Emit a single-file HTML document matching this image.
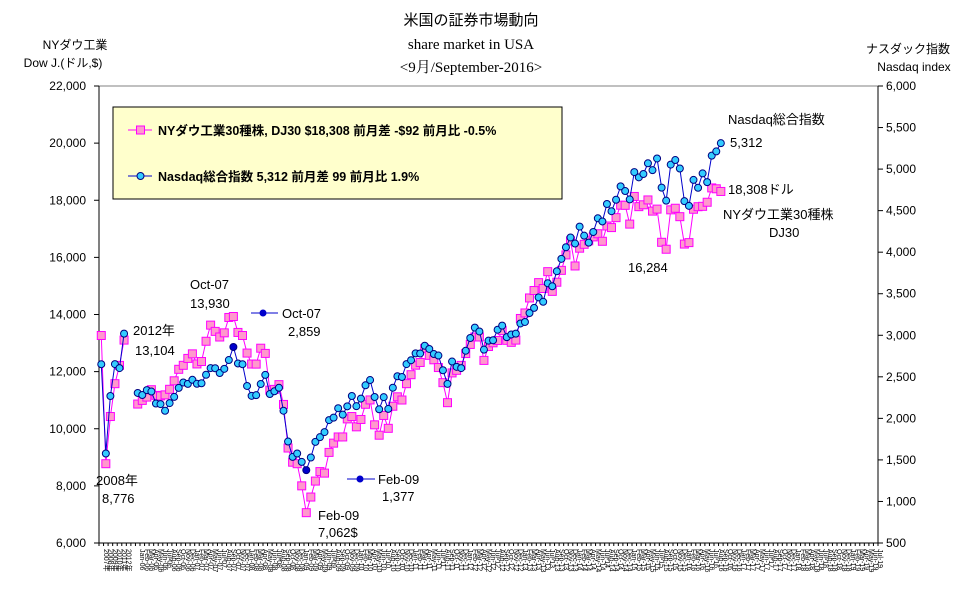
<!DOCTYPE html>
<html><head><meta charset="utf-8">
<style>
body{margin:0;background:#fff;}
svg text{font-family:"Liberation Sans","Noto Sans CJK JP",sans-serif;}
.serif{font-family:"Liberation Serif","Noto Serif CJK SC",serif !important;}
</style></head>
<body>
<svg id="chart" width="970" height="603" viewBox="0 0 970 603" xmlns="http://www.w3.org/2000/svg">
<g id="plot"></g>
<g>
<text x="471" y="25" font-size="15" text-anchor="middle">米国の証券市場動向</text>
<text class="serif" x="471" y="49" font-size="15" text-anchor="middle">share market in USA</text>
<text class="serif" x="471" y="72" font-size="15" text-anchor="middle">&lt;9月/September-2016&gt;</text>
<text x="75" y="49" font-size="12" text-anchor="middle">NYダウ工業</text>
<text x="63" y="67" font-size="12" text-anchor="middle">Dow J.(ドル,$)</text>
<text x="908" y="53" font-size="12" text-anchor="middle">ナスダック指数</text>
<text x="914" y="71" font-size="12" text-anchor="middle">Nasdaq index</text>
</g>
<g>
<rect x="113" y="107" width="449" height="92" fill="#ffffcc" stroke="#000" stroke-width="1"/>
<line x1="128" y1="130" x2="152" y2="130" stroke="#ff00ff"/>
<rect x="136.5" y="126" width="8" height="8" fill="#ff99cc" stroke="#ff00ff"/>
<text x="158" y="135" font-size="12.5" font-weight="bold">NYダウ工業30種株, DJ30 $18,308 前月差 -$92 前月比 -0.5%</text>
<line x1="128" y1="176" x2="152" y2="176" stroke="#0000cc"/>
<circle cx="140.5" cy="176" r="3.5" fill="#33ccff" stroke="#000080"/>
<text x="158" y="181" font-size="12.5" font-weight="bold">Nasdaq総合指数 5,312 前月差 99 前月比 1.9%</text>
</g>
<g font-size="13">
<text x="133" y="335">2012年</text>
<text x="135" y="355">13,104</text>
<text x="190" y="289">Oct-07</text>
<text x="190" y="308">13,930</text>
<line x1="251" y1="313" x2="278" y2="313" stroke="#0000cc"/>
<circle cx="263" cy="313" r="3.5" fill="#0000cc"/>
<text x="282" y="318">Oct-07</text>
<text x="288" y="336">2,859</text>
<text x="96" y="485">2008年</text>
<text x="102" y="503">8,776</text>
<text x="318" y="520">Feb-09</text>
<text x="318" y="537">7,062$</text>
<line x1="347" y1="479" x2="375" y2="479" stroke="#0000cc"/>
<circle cx="360" cy="479" r="3.5" fill="#0000cc"/>
<text x="378" y="484">Feb-09</text>
<text x="382" y="501">1,377</text>
<text x="628" y="272">16,284</text>
<text x="728" y="124">Nasdaq総合指数</text>
<text x="730" y="147">5,312</text>
<text x="728" y="194">18,308ドル</text>
<text x="723" y="219">NYダウ工業30種株</text>
<text x="769" y="237">DJ30</text>
</g>
</svg>
<script>
const annualLabels = ["2007年","2008年","2009年","2010年","2011年","2012年"];
const dowAnnual = [13265,8776,10428,11578,12218,13104];
const nasdaqAnnual = [2652,1577,2269,2653,2605,3020];
const dowMonthly = [
10865,10993,11109,11367,11168,11150,11186,11381,11679,12081,12221,12463,
12622,12269,12354,13063,13628,13409,13212,13358,13896,13930,13372,13265,
12650,12266,12263,12820,12638,11350,11378,11544,10851,9325,8829,8776,
8001,7062,7609,8168,8500,8447,9172,9496,9712,9713,10345,10428,
10067,10325,10857,11009,10137,9774,10466,10015,10788,11118,11006,11578,
11892,12226,12320,12811,12570,12414,12143,11614,10913,11955,12046,12218,
12633,12952,13212,13214,12393,12880,13009,13091,13437,13096,13026,13104,
13861,14054,14579,14840,15116,14910,15500,14810,15130,15546,16086,16577,
15699,16322,16458,16581,16717,16827,16563,17098,17043,17391,17828,17823,
17165,18133,17776,17841,18011,17620,17690,16528,16285,17664,17720,17425,
16466,16517,17685,17774,17787,17930,18432,18401,18308];
const nasdaqMonthly = [
2306,2281,2340,2323,2179,2172,2091,2184,2258,2367,2432,2415,
2464,2416,2422,2525,2605,2603,2546,2596,2702,2859,2661,2652,
2390,2271,2279,2413,2523,2293,2326,2368,2092,1721,1536,1577,
1476,1377,1529,1717,1774,1835,1979,2009,2122,2045,2145,2269,
2147,2238,2398,2461,2257,2109,2255,2114,2369,2507,2498,2653,
2700,2782,2781,2874,2835,2774,2756,2579,2415,2684,2620,2605,
2814,2967,3092,3046,2827,2935,2940,3067,3116,2977,3010,3020,
3142,3160,3268,3329,3456,3403,3626,3590,3771,3920,4060,4177,
4104,4308,4199,4115,4243,4408,4370,4580,4493,4631,4792,4736,
4635,4964,4901,4941,5070,4987,5128,4777,4620,5054,5109,5007,
4614,4558,4870,4775,4948,4843,5162,5213,5312];
const leftTicks = [6000,8000,10000,12000,14000,16000,18000,20000,22000];
const rightTicks = [500,1000,1500,2000,2500,3000,3500,4000,4500,5000,5500,6000];
const monthNames = ["Jan","Feb","Mar","Apr","May","Jun","Jul","Aug","Sep","Oct","Nov","Dec"];
const highlightIdx = [21,37]; // Oct-07, Feb-09 nasdaq

const NS="http://www.w3.org/2000/svg";
const plot=document.getElementById('plot');
const X0=99,X1=878,Y0=86,Y1=543;
const GAP=2, NMONTH=163;
const NCAT=annualLabels.length+GAP+NMONTH;
const cw=(X1-X0)/NCAT;
const xAt=i=>X0+(i+0.5)*cw;
const yL=v=>Y1-(v-6000)/(22000-6000)*(Y1-Y0);
const yR=v=>Y1-(v-500)/(6000-500)*(Y1-Y0);
function mk(tag,attrs){const e=document.createElementNS(NS,tag);for(const k in attrs)e.setAttribute(k,attrs[k]);return e;}

// frame
let e=mk('line',{x1:X0,y1:Y0,x2:X1,y2:Y0,stroke:'#808080'});

plot.appendChild(e);
e=mk('line',{x1:X0,y1:Y0,x2:X0,y2:Y1,stroke:'#000'});

plot.appendChild(e);
e=mk('line',{x1:X1,y1:Y0,x2:X1,y2:Y1,stroke:'#000'});

plot.appendChild(e);
e=mk('line',{x1:X0,y1:Y1,x2:X1,y2:Y1,stroke:'#000'});

plot.appendChild(e);

leftTicks.forEach(v=>{
  const y=yL(v);
  plot.appendChild(mk('line',{x1:X0-5,y1:y,x2:X0,y2:y,stroke:'#000'}));
  const t=mk('text',{x:X0-13,y:y+4,'font-size':12,'text-anchor':'end'});
  
  
  t.textContent=v.toLocaleString('en-US');plot.appendChild(t);
});
rightTicks.forEach(v=>{
  const y=yR(v);
  plot.appendChild(mk('line',{x1:X1,y1:y,x2:X1+5,y2:y,stroke:'#000'}));
  const t=mk('text',{x:X1+8,y:y+4,'font-size':12});
  
  
  t.textContent=v.toLocaleString('en-US');plot.appendChild(t);
});
// categories
const cats=[];
annualLabels.forEach(l=>cats.push(l));
for(let g=0;g<GAP;g++)cats.push('');
for(let m=0;m<NMONTH;m++){const yr=6+Math.floor(m/12);cats.push(monthNames[m%12]+'-'+String(yr).padStart(2,'0'));}
for(let i=0;i<=NCAT;i++){const x=X0+i*cw;plot.appendChild(mk('line',{x1:x,y1:Y1,x2:x,y2:Y1+3,stroke:'#000'}));}
cats.forEach((c,i)=>{
  if(!c)return;
  const x=xAt(i)+2.5;
  const t=mk('text',{x:x,y:Y1+6,'font-size':7,transform:`rotate(90 ${x} ${Y1+6})`});
  
  
  t.textContent=c;plot.appendChild(t);
});

function series(ann,mon,yf,color,name){
  const g=mk('g',{});
  
  
  const p1=ann.map((v,i)=>xAt(i)+','+yf(v)).join(' ');
  const off=annualLabels.length+GAP;
  const p2=mon.map((v,i)=>xAt(off+i)+','+yf(v)).join(' ');
  g.appendChild(mk('polyline',{points:p1,fill:'none',stroke:color,'stroke-width':1}));
  g.appendChild(mk('polyline',{points:p2,fill:'none',stroke:color,'stroke-width':1}));
  plot.appendChild(g);
  return {g,off};
}
const d=series(dowAnnual,dowMonthly,yL,'#ff00ff','dow-series');
const n=series(nasdaqAnnual,nasdaqMonthly,yR,'#0000cc','nasdaq-series');
function sq(g,x,y){const r=mk('rect',{x:x-4,y:y-4,width:8,height:8,fill:'#ff99cc',stroke:'#ff00ff'});
  
  g.appendChild(r);}
function ci(g,x,y,hi){const c=mk('circle',{cx:x,cy:y,r:3.5,fill:hi?'#0000cc':'#33ccff',stroke:'#000080'});
  
  g.appendChild(c);}
dowAnnual.forEach((v,i)=>sq(d.g,xAt(i),yL(v)));
dowMonthly.forEach((v,i)=>sq(d.g,xAt(d.off+i),yL(v)));
nasdaqAnnual.forEach((v,i)=>ci(n.g,xAt(i),yR(v),false));
nasdaqMonthly.forEach((v,i)=>ci(n.g,xAt(n.off+i),yR(v),highlightIdx.includes(i)));
</script>
</body></html>
